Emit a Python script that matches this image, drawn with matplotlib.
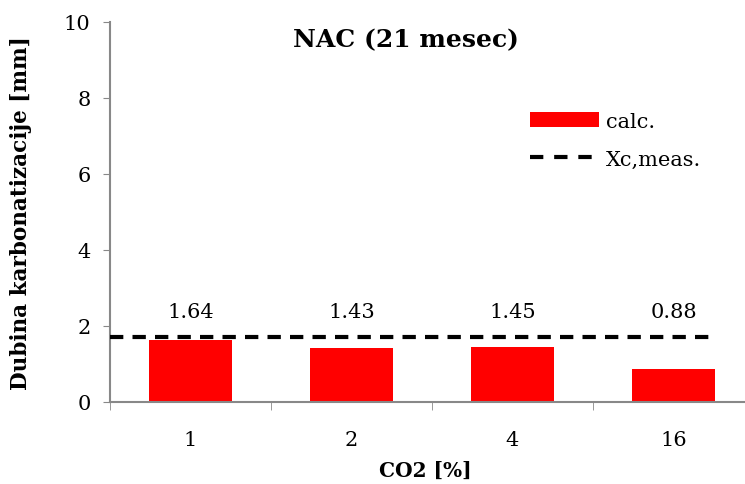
import numpy as np
import matplotlib
matplotlib.use("Agg")
import matplotlib.pyplot as plt
from matplotlib.lines import Line2D
from matplotlib.patches import Patch

# data
co2 = ["1", "2", "4", "16"]
calc = [1.64, 1.43, 1.45, 0.88]
xc_meas = 1.71

plt.rcParams['font.family'] = ['DejaVu Serif']

fig = plt.figure(figsize=(7.45, 4.85), dpi=100)
# axes runs a bit past the right edge, like the excel export
ax = fig.add_axes([110 / 745, 82 / 485, 644 / 745, 380 / 485])

x = np.arange(len(co2))
bar_w = 0.515
ax.bar(x, calc, width=bar_w, color='#ff0000', zorder=2)
ax.hlines(xc_meas, -0.5, x[-1] + bar_w / 2, colors='black',
          linestyles=(0, (3.2, 2.2)), linewidth=3, zorder=3)

for xi, v in zip(x, calc):
    ax.text(xi, 2.39, "%.2f" % v, ha='center', va='center', fontsize=15)

ax.set_xlim(-0.5, len(co2) - 0.5)
ax.set_ylim(0, 10)
ax.set_yticks(range(0, 11, 2))
ax.tick_params(axis='y', labelsize=15, length=5, color='#888888', pad=9)
ax.set_xticks(x)
ax.set_xticklabels(co2)
ax.set_xticks(np.arange(-0.5, len(co2), 1), minor=True)
ax.tick_params(axis='x', which='major', length=0, labelsize=15, pad=20)
ax.tick_params(axis='x', which='minor', length=6, color='#888888')

for s in ['top', 'right']:
    ax.spines[s].set_visible(False)
for s in ['left', 'bottom']:
    ax.spines[s].set_color('#888888')
    ax.spines[s].set_linewidth(1.5)

ax.set_ylabel("Dubina karbonatizacije [mm]", fontsize=15.5, fontweight='bold', va='center')
ax.yaxis.set_label_coords((21 - 110) / 644, (403 - 213) / 380)
ax.set_xlabel("CO2 [%]", fontsize=14.5, fontweight='bold', va='center')
ax.xaxis.set_label_coords((425 - 110) / 644, -(471 - 403) / 380)
fig.text(406 / 745, 1 - 40 / 485, "NAC (21 mesec)", ha='center', va='center',
         fontsize=18, fontweight='bold')

handles = [Patch(facecolor='#ff0000', edgecolor='none'),
           Line2D([0], [0], color='black', lw=3, linestyle=(0, (3.2, 2.6)))]
ax.legend(handles, ["calc.", "Xc,meas."], loc='upper left',
          bbox_to_anchor=((530 - 110) / 644, (403 - 113) / 380),
          frameon=False, fontsize=15, handlelength=3.3, handleheight=0.75,
          handletextpad=0.35, labelspacing=0.9, borderaxespad=0, borderpad=0)

fig.savefig("out.png", dpi=100)
